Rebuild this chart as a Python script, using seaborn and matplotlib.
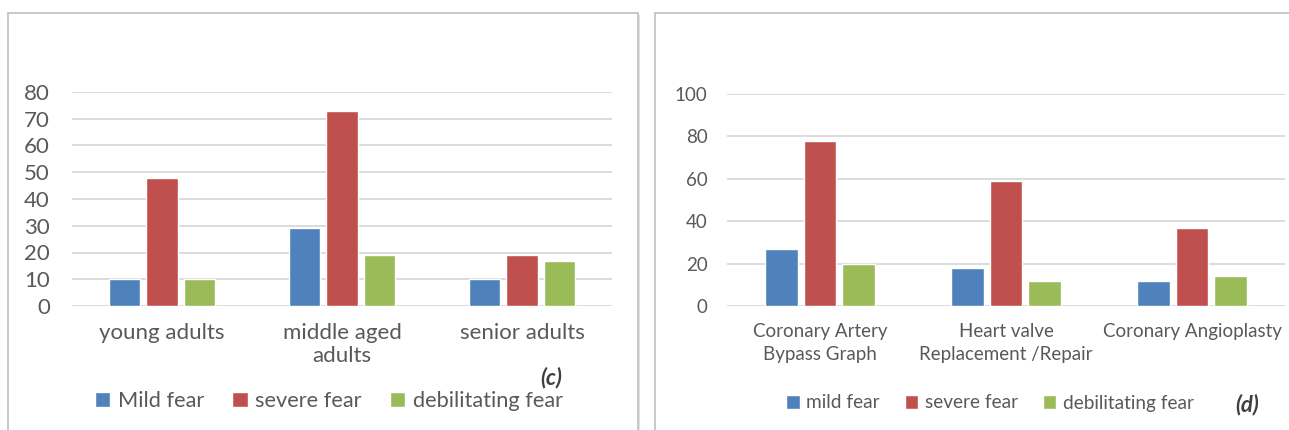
import matplotlib
matplotlib.use("Agg")
import matplotlib.pyplot as plt
from matplotlib.patches import Rectangle
import pandas as pd
import seaborn as sns

# Panel (c): fear level by age group
age_groups = ["young adults", "middle aged\nadults", "senior adults"]
mild_c = [10, 29, 10]
severe_c = [48, 73, 19]
debilitating_c = [10, 19, 17]
levels_c = ["Mild fear", "severe fear", "debilitating fear"]

# Panel (d): fear level by procedure
procedures = ["Coronary Artery\nBypass Graph", "Heart valve\nReplacement /Repair", "Coronary Angioplasty"]
mild_d = [27, 18, 12]
severe_d = [78, 59, 37]
debilitating_d = [20, 12, 14]
levels_d = ["mild fear", "severe fear", "debilitating fear"]

colors = ["#4f81bd", "#c0504d", "#9bbb59"]
text_color = "#595959"
grid_color = "#d9d9d9"

sns.set_theme(style="white")
plt.rcParams["font.family"] = ["Lato", "DejaVu Sans"]

W, H = 1289, 430
fig = plt.figure(figsize=(W / 100, H / 100), dpi=100)
fig.patch.set_facecolor("white")


def px_axes(left, right, top, bottom):
    ax = fig.add_axes([left / W, 1 - bottom / H, (right - left) / W, (bottom - top) / H])
    ax.set_zorder(2)
    return ax


def long_frame(cats, series, names):
    rows = []
    for name, vals in zip(names, series):
        for c, v in zip(cats, vals):
            rows.append({"category": c, "level": name, "value": v})
    return pd.DataFrame(rows)


# Panel frames with a soft shadow
for x0, x1 in [(8, 638), (655, 1300)]:
    fig.patches.append(Rectangle(((x0 + 2) / W, -0.05), (x1 - x0) / W, 1.05 - 15 / H,
                                 transform=fig.transFigure, facecolor="#e3e3e3", edgecolor="none",
                                 zorder=-2))
    fig.patches.append(Rectangle((x0 / W, -0.05), (x1 - x0) / W, 1.05 - 13 / H,
                                 transform=fig.transFigure, facecolor="white", edgecolor="#bfbfbf",
                                 linewidth=1.2, zorder=-1))


def draw_panel(ax, cats, series, names, ymax, step, fsize, ypad, lsize, linesp,
               label, label_xy, legend_xy):
    df = long_frame(cats, series, names)
    sns.barplot(data=df, x="category", y="value", hue="level", palette=colors,
                width=0.62, gap=0.16, ax=ax, saturation=1, legend=True, zorder=3)
    ax.set_ylim(0, ymax)
    ax.set_yticks(range(0, ymax + 1, step))
    ax.set_xlim(-0.5, len(cats) - 0.5)
    ax.yaxis.grid(True, color=grid_color, linewidth=1.3)
    ax.set_axisbelow(True)
    for s in ax.spines.values():
        s.set_visible(False)
    ax.set_xlabel("")
    ax.set_ylabel("")
    ax.tick_params(axis="x", length=0, pad=12, labelsize=fsize, labelcolor=text_color)
    ax.tick_params(axis="y", length=0, pad=ypad, labelsize=fsize, labelcolor=text_color)
    for t in ax.get_xticklabels():
        t.set_linespacing(linesp)
    ax.set_facecolor("none")
    handles, labels = ax.get_legend_handles_labels()
    ax.get_legend().remove()
    fig.legend(handles, labels, loc="center", bbox_to_anchor=(legend_xy[0] / W, 1 - legend_xy[1] / H),
               ncol=3, frameon=False, fontsize=lsize, labelcolor=text_color,
               handlelength=0.7, handleheight=0.7, handletextpad=0.35, columnspacing=1.3)
    fig.text(label_xy[0] / W, 1 - label_xy[1] / H, label, fontsize=16, fontweight="bold",
             fontstyle="italic", color="#404040", ha="center", va="center")


ax_c = px_axes(72, 612, 92, 306)
draw_panel(ax_c, age_groups, [mild_c, severe_c, debilitating_c], levels_c, 80, 10,
           16, 16, 15.7, 1.2, "(c)", (551, 378), (329, 401))

ax_d = px_axes(727, 1285, 94, 306)
draw_panel(ax_d, procedures, [mild_d, severe_d, debilitating_d], levels_d, 100, 20,
           13.5, 14, 13.7, 1.45, "(d)", (1247, 405), (990, 403))

fig.savefig("out.png", dpi=100, facecolor="white")
